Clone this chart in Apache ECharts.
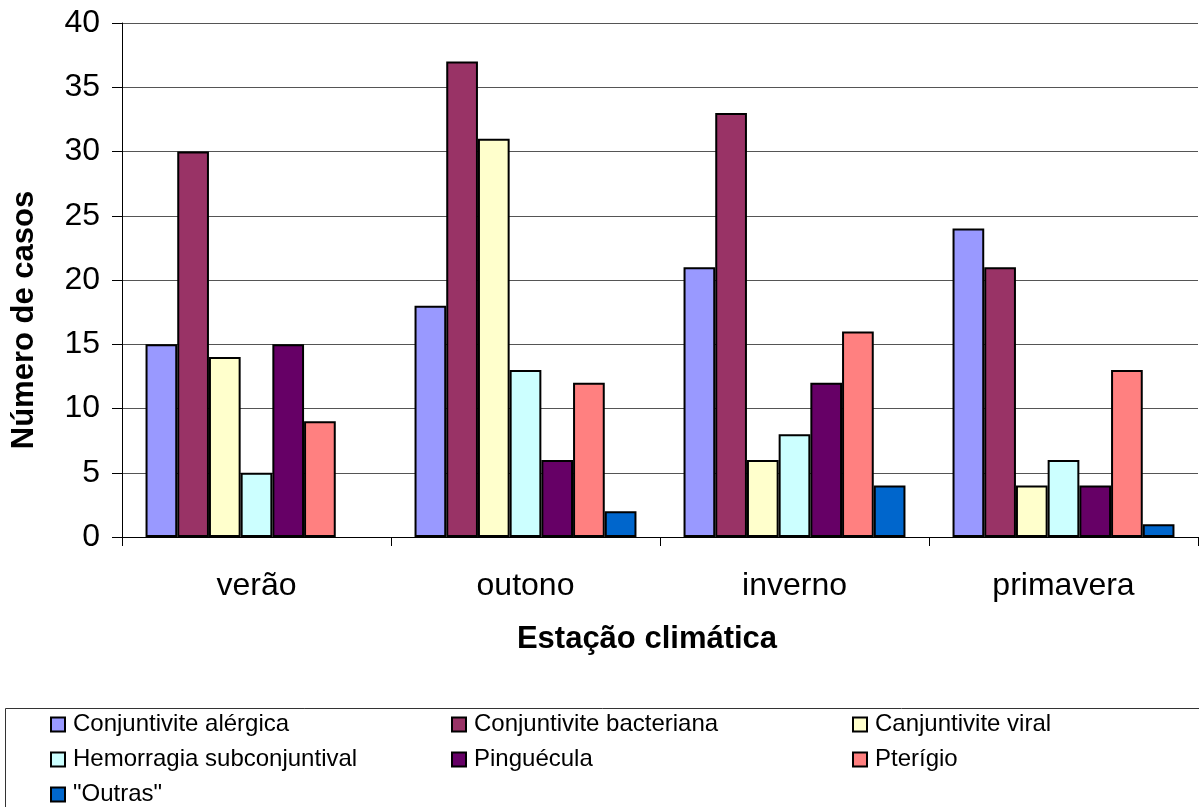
<!DOCTYPE html>
<html>
<head>
<meta charset="utf-8">
<script src="https://cdn.jsdelivr.net/npm/echarts@6/dist/echarts.min.js"></script>
<style>
  html, body { margin: 0; padding: 0; background: #fff; }
  #chart { width: 1199px; height: 807px; }
</style>
</head>
<body>
<div id="chart"></div>
<script>
// Seasons on the category axis
const seasons = ['verão', 'outono', 'inverno', 'primavera'];

// Case counts per diagnosis, one value per season
const alergica = [15, 18, 21, 24];
const bacteriana = [30, 37, 33, 21];
const viral = [14, 31, 6, 4];
const hemorragia = [5, 13, 8, 6];
const pinguecula = [15, 6, 12, 4];
const pterigio = [9, 12, 16, 13];
const outras = [null, 2, 4, 1];

const seriesNames = [
  'Conjuntivite alérgica', 'Conjuntivite bacteriana', 'Canjuntivite viral',
  'Hemorragia subconjuntival', 'Pinguécula', 'Pterígio', '"Outras"'
];
const seriesData = [alergica, bacteriana, viral, hemorragia, pinguecula, pterigio, outras];
const seriesColors = ['#9999FF', '#993366', '#FFFFCC', '#CCFFFF', '#660066', '#FF8080', '#0066CC'];

const font = '"Liberation Sans", Arial, sans-serif';

const chart = echarts.init(document.getElementById('chart'), null, { renderer: 'canvas' });

chart.setOption({
  animation: false,
  backgroundColor: '#fff',
  textStyle: { fontFamily: font, color: '#000' },
  grid: { left: 122, right: 1, top: 23, bottom: 270, containLabel: false, outerBoundsMode: 'none' },
  legend: {
    left: 3,
    top: 707,
    width: 1230,
    padding: [0, 0, 0, 47],
    itemGap: 0,
    itemWidth: 14,
    itemHeight: 14,
    icon: 'rect',
    selectedMode: false,
    textStyle: { fontFamily: font, fontSize: 24, color: '#000', width: 378, lineHeight: 35, padding: [0, 0, 0, 3] },
    data: seriesNames
  },
  graphic: [{
    type: 'rect',
    left: 3, top: 706,
    shape: { width: 1210, height: 120 },
    style: { fill: 'none', stroke: '#333', lineWidth: 1 },
    silent: true
  }],
  xAxis: {
    type: 'category',
    data: seasons,
    name: 'Estação climática',
    nameLocation: 'middle',
    nameGap: 87,
    nameTextStyle: { fontFamily: font, fontSize: 31, fontWeight: 'bold', color: '#000', padding: [0, 26, 0, 0] },
    axisLine: { lineStyle: { color: '#000', width: 1 } },
    axisTick: { show: true, length: 9, lineStyle: { color: '#000' } },
    axisLabel: { fontFamily: font, fontSize: 32, color: '#000', margin: 33 },
    splitLine: { show: false }
  },
  yAxis: {
    type: 'value',
    min: 0, max: 40, interval: 5,
    name: 'Número de casos',
    nameLocation: 'middle',
    nameGap: 82,
    nameRotate: 90,
    nameTextStyle: { fontFamily: font, fontSize: 31, fontWeight: 'bold', color: '#000', padding: [0, 80, 0, 0] },
    axisLine: { show: true, lineStyle: { color: '#000', width: 1 } },
    axisTick: { show: true, length: 10, lineStyle: { color: '#000' } },
    axisLabel: { fontFamily: font, fontSize: 32, color: '#000', margin: 22 },
    splitLine: { show: true, lineStyle: { color: '#555', width: 1 } }
  },
  series: seriesNames.map((name, i) => ({
    name,
    type: 'bar',
    data: seriesData[i],
    barGap: '0%',
    barCategoryGap: '17.5%',
    itemStyle: { color: seriesColors[i], borderColor: '#000', borderWidth: 2 }
  }))
});
</script>
</body>
</html>
